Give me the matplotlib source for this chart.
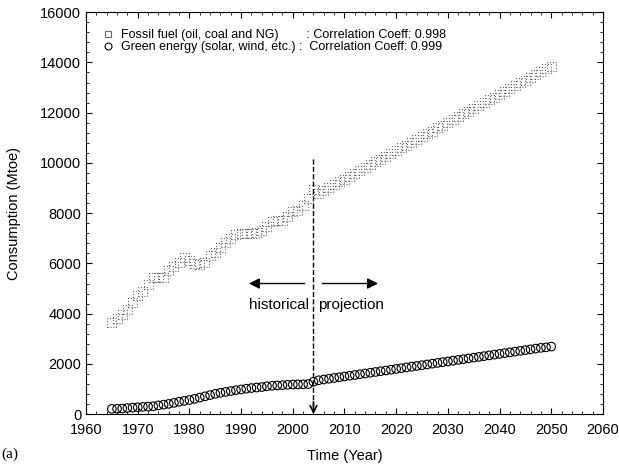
import matplotlib
matplotlib.use('Agg')
import matplotlib.pyplot as plt
from matplotlib.ticker import MultipleLocator
from matplotlib.lines import Line2D

plt.rcParams['font.family'] = ['Liberation Sans', 'DejaVu Sans']

years = list(range(1965, 2051))

# fossil fuel consumption (Mtoe), 1965-2004 historical, 2005-2050 projection
fossil = [3650, 3800, 3950, 4180, 4450, 4720, 4900, 5150, 5450, 5420,
          5430, 5700, 5880, 6050, 6250, 6120, 6000, 5960, 6050, 6300,
          6450, 6620, 6820, 7000, 7150, 7200, 7200, 7180, 7220, 7300,
          7450, 7650, 7720, 7720, 7850, 8050, 8120, 8320, 8600, 8950,
          8800, 8910, 9020, 9140, 9250, 9360, 9470, 9590, 9700, 9810,
          9920, 10040, 10150, 10260, 10370, 10490, 10600, 10710, 10820, 10940,
          11050, 11160, 11270, 11390, 11500, 11610, 11720, 11840, 11950, 12060,
          12170, 12290, 12400, 12510, 12620, 12740, 12850, 12960, 13070, 13190,
          13300, 13410, 13520, 13640, 13750, 13850]

# green energy consumption (Mtoe)
green = [210, 215, 225, 245, 260, 275, 290, 300, 315, 350,
         380, 410, 450, 495, 530, 565, 610, 660, 710, 760,
         810, 850, 885, 920, 955, 985, 1015, 1040, 1060, 1080,
         1110, 1130, 1145, 1155, 1170, 1180, 1185, 1190, 1200, 1290,
         1350, 1380, 1410, 1440, 1470, 1500, 1530, 1560, 1590, 1620,
         1650, 1680, 1710, 1740, 1770, 1800, 1830, 1860, 1890, 1920,
         1950, 1980, 2010, 2040, 2070, 2100, 2130, 2160, 2190, 2220,
         2250, 2280, 2310, 2340, 2370, 2400, 2430, 2460, 2490, 2520,
         2550, 2580, 2610, 2640, 2660, 2690]

fig = plt.figure(figsize=(6.19, 4.68), dpi=100)
ax = fig.add_axes([0.139, 0.115, 0.835, 0.859])

ax.scatter(years, fossil, marker='s', s=42, facecolors='none', edgecolors='#666666',
           linewidths=0.8, linestyles=':', zorder=3)
ax.scatter(years, green, marker='o', s=38, facecolors='none', edgecolors='black',
           linewidths=0.8, zorder=3)

# dividing line between history and projection
ax.plot([2004, 2004], [300, 10200], linestyle='--', color='black', lw=1.0)
ax.annotate('', xy=(2004, 0), xytext=(2004, 500),
            arrowprops=dict(arrowstyle='->', color='black', lw=1.2,
                            mutation_scale=12, shrinkA=0, shrinkB=0))
ax.annotate('', xy=(1991.5, 5200), xytext=(2002.3, 5200),
            arrowprops=dict(arrowstyle='-|>', color='black', lw=1.0, mutation_scale=16,
                            shrinkA=0, shrinkB=0))
ax.annotate('', xy=(2016.5, 5200), xytext=(2005.7, 5200),
            arrowprops=dict(arrowstyle='-|>', color='black', lw=1.0, mutation_scale=16,
                            shrinkA=0, shrinkB=0))
ax.text(2003.2, 4350, 'historical', ha='right', va='center', fontsize=11)
ax.text(2004.9, 4350, 'projection', ha='left', va='center', fontsize=11)

ax.set_xlim(1960, 2060)
ax.set_ylim(0, 16000)
ax.xaxis.set_major_locator(MultipleLocator(10))
ax.xaxis.set_minor_locator(MultipleLocator(2))
ax.yaxis.set_major_locator(MultipleLocator(2000))
ax.yaxis.set_minor_locator(MultipleLocator(400))
ax.tick_params(which='both', direction='in', top=True, right=True, labelsize=10.5)
ax.tick_params(axis='x', pad=6)
ax.tick_params(which='major', length=4)
ax.tick_params(which='minor', length=2)
ax.set_xlabel('Time (Year)', fontsize=10.5, labelpad=9)
ax.set_ylabel('Consumption (Mtoe)', fontsize=10.5, labelpad=14)

handles = [
    Line2D([], [], marker='s', linestyle='none', markersize=5, markerfacecolor='none',
           markeredgecolor='#666666', markeredgewidth=0.8),
    Line2D([], [], marker='o', linestyle='none', markersize=5, markerfacecolor='none',
           markeredgecolor='black', markeredgewidth=0.8),
]
labels = ['Fossil fuel (oil, coal and NG)        : Correlation Coeff: 0.998',
          'Green energy (solar, wind, etc.) :  Correlation Coeff: 0.999']
ax.legend(handles, labels, loc='upper left', frameon=False, fontsize=9,
          handlelength=0.9, handletextpad=0.6, labelspacing=0.0,
          bbox_to_anchor=(0.01, 0.985))

fig.text(0.003, 0.022, '(a)', fontsize=11, family='Liberation Serif')

fig.savefig('out.png', dpi=100)
